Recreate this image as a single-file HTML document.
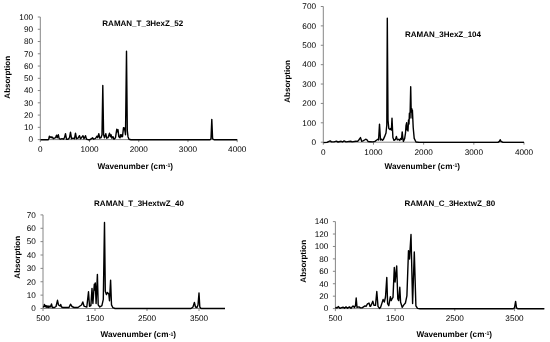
<!DOCTYPE html>
<html><head><meta charset="utf-8"><style>
html,body{margin:0;padding:0;background:#fff;width:550px;height:342px;overflow:hidden}
svg{display:block;will-change:transform;filter:blur(0.25px)}
text{font-family:"Liberation Sans",sans-serif;fill:#000;text-rendering:geometricPrecision}
.yl{font-size:8.2px;text-anchor:end}
.xl{font-size:8.2px;text-anchor:middle}
.tt{font-size:8px;font-weight:bold;text-anchor:middle}
.xt{font-size:8.2px}
.sup{font-size:5.2px}
.ax{stroke:#868686;stroke-width:1;fill:none}
.ln{stroke:#000;stroke-width:1.4;fill:none;stroke-linejoin:round}
</style></head><body>
<svg width="550" height="342" viewBox="0 0 550 342">
<path d="M40.3 17V139.6H237.2" class="ax"/>
<text x="33" y="142.4" class="yl">0</text>
<text x="33" y="130.14" class="yl">10</text>
<text x="33" y="117.88" class="yl">20</text>
<text x="33" y="105.62" class="yl">30</text>
<text x="33" y="93.36" class="yl">40</text>
<text x="33" y="81.1" class="yl">50</text>
<text x="33" y="68.84" class="yl">60</text>
<text x="33" y="56.58" class="yl">70</text>
<text x="33" y="44.32" class="yl">80</text>
<text x="33" y="32.06" class="yl">90</text>
<text x="33" y="19.8" class="yl">100</text>
<text x="40.3" y="152" class="xl">0</text>
<text x="89.52" y="152" class="xl">1000</text>
<text x="138.75" y="152" class="xl">2000</text>
<text x="187.97" y="152" class="xl">3000</text>
<text x="237.2" y="152" class="xl">4000</text>
<path d="M37.8 139.6H40.3M37.8 127.34H40.3M37.8 115.08H40.3M37.8 102.82H40.3M37.8 90.56H40.3M37.8 78.3H40.3M37.8 66.04H40.3M37.8 53.78H40.3M37.8 41.52H40.3M37.8 29.26H40.3M37.8 17H40.3M40.3 139.6V142.1M89.52 139.6V142.1M138.75 139.6V142.1M187.97 139.6V142.1M237.2 139.6V142.1" class="ax"/>
<polyline class="ln" points="40.5,139.7 48.3,139.7 48.9,138.2 49.4,136.2 49.8,137.7 50.5,137.2 51,136.7 51.7,137.7 52.5,137.2 53.3,138.7 54.5,138.2 55.5,137.7 56.5,135.2 57.3,137.7 58.3,134.7 59.2,138.7 60.5,139.2 62,138.7 63.5,139.2 64.5,137.7 65.5,133.7 66.5,139.2 68,139.2 69.5,137.7 70.5,132.2 71.5,138.7 73,138.2 74.5,138.7 75.5,133.2 76.5,138.7 78,138.2 79.5,135.7 80.5,138.7 81.5,137.7 83,135.7 84,138.7 85.5,135.7 86.5,139.2 88,139.7 90,139.7 91.5,138.7 92.5,137.7 93.5,139.2 95,138.7 96,137.7 97,136.2 97.8,137.7 98.8,133.7 99.8,138.2 101,137.7 102,134.7 102.8,85.4 103.6,134.7 104.5,137.7 105.8,133.7 106.7,138.2 108,137.7 109.5,133.2 110.3,136.7 111,134.7 112,138.2 113,136.7 114,139.2 115.5,137.7 116.8,129.2 117.5,131.7 118,129.7 118.8,136.7 120,137.7 120.5,134.7 121.2,136.7 121.8,134.7 122.5,136.7 123.5,127.7 124.5,128.2 125.5,134.7 126.5,51.3 127.3,130.7 128,136.7 129,139.2 131,139.7 210,139.7 211,138.7 211.8,119.4 212.6,138.7 214,139.7 237.2,139.7"/>
<text x="142.8" y="26" class="tt">RAMAN_T_3HexZ_52</text>
<text x="135.3" y="168.8" class="tt xt">Wavenumber (cm<tspan class="sup" dx="0.3" dy="-1.6">-1</tspan><tspan dy="1.6">)</tspan></text>
<text transform="translate(10 77.3) rotate(-90)" class="tt">Absorption</text>
<path d="M323.3 6.5V142.2H524" class="ax"/>
<text x="316" y="145" class="yl">0</text>
<text x="316" y="125.61" class="yl">100</text>
<text x="316" y="106.23" class="yl">200</text>
<text x="316" y="86.84" class="yl">300</text>
<text x="316" y="67.46" class="yl">400</text>
<text x="316" y="48.07" class="yl">500</text>
<text x="316" y="28.69" class="yl">600</text>
<text x="316" y="9.3" class="yl">700</text>
<text x="323.3" y="155" class="xl">0</text>
<text x="373.48" y="155" class="xl">1000</text>
<text x="423.65" y="155" class="xl">2000</text>
<text x="473.83" y="155" class="xl">3000</text>
<text x="524" y="155" class="xl">4000</text>
<path d="M320.8 142.2H323.3M320.8 122.81H323.3M320.8 103.43H323.3M320.8 84.04H323.3M320.8 64.66H323.3M320.8 45.27H323.3M320.8 25.89H323.3M320.8 6.5H323.3M323.3 142.2V144.7M373.48 142.2V144.7M423.65 142.2V144.7M473.83 142.2V144.7M524 142.2V144.7" class="ax"/>
<polyline class="ln" points="323.5,142.6 327,142.4 328.5,141.6 330.2,140.9 331.5,141.9 334,141.9 336.4,141.2 338,142 341.2,141.3 342.5,142 344.1,140.9 346,141.9 350.7,141.2 352,141.9 355.9,141.2 357.5,141.4 358.8,140 360.5,137.6 361.7,141.3 363,140.9 364.5,140 366,139.2 367,139.9 368.2,141.6 370,141.7 373,141.9 375,141.4 376.8,140 377.8,139.2 378.6,139.9 379.5,124.1 380.5,140 381.7,139.2 382.5,140.2 383.4,139.4 384.7,136.4 386,133 386.8,125 387.3,18.2 388,120 388.8,128.4 390,129.6 390.8,128.4 391.4,130 392,118.1 392.9,137.6 394,140.4 395.5,139.4 396.4,136.4 397.3,139.9 398.7,139.3 399.7,140.4 400.8,138.4 401.5,139.4 402.2,131.9 403,139.4 403.4,141.4 404.7,138.4 405.5,133 406,125.6 406.6,122.8 407.1,130 407.5,127.5 408,131 408.5,120 409,124 409.4,113.3 410,118 410.7,86.7 411.2,112 411.7,108.5 412.1,118 412.4,110 413.2,127.5 414.2,138.4 416,142 419,142.4 498,142.4 499.4,141.4 500.2,139.7 501,141.4 503,142.4 524,142.4"/>
<text x="443" y="37" class="tt">RAMAN_3HexZ_104</text>
<text x="422.3" y="169" class="tt xt">Wavenumber (cm<tspan class="sup" dx="0.3" dy="-1.6">-1</tspan><tspan dy="1.6">)</tspan></text>
<text transform="translate(289.6 81.4) rotate(-90)" class="tt">Absorption</text>
<path d="M43 214.9V308.5H225" class="ax"/>
<text x="35.8" y="311.3" class="yl">0</text>
<text x="35.8" y="297.93" class="yl">10</text>
<text x="35.8" y="284.56" class="yl">20</text>
<text x="35.8" y="271.19" class="yl">30</text>
<text x="35.8" y="257.81" class="yl">40</text>
<text x="35.8" y="244.44" class="yl">50</text>
<text x="35.8" y="231.07" class="yl">60</text>
<text x="35.8" y="217.7" class="yl">70</text>
<text x="43" y="321" class="xl">500</text>
<text x="95" y="321" class="xl">1500</text>
<text x="147" y="321" class="xl">2500</text>
<text x="199" y="321" class="xl">3500</text>
<path d="M40.5 308.5H43M40.5 295.13H43M40.5 281.76H43M40.5 268.39H43M40.5 255.01H43M40.5 241.64H43M40.5 228.27H43M40.5 214.9H43M43 308.5V311M95 308.5V311M147 308.5V311M199 308.5V311" class="ax"/>
<polyline class="ln" points="43.2,307.5 44,306 44.4,304.4 45,306.5 45.6,305.5 46.2,307.3 46.8,305.8 47.4,307.3 48,306 48.6,307.4 49.3,306.2 50,307.2 50.8,306 51.5,304 52.3,307.5 54.5,307.5 56,306.5 57.5,300.3 58.5,305 60,306 60.7,304.5 61.5,307 63,307.5 69,307.5 70.5,304.2 72,306.5 74,307.5 78,307.5 80,306 81.5,305 82.8,302 84,306 84.7,306.3 86.8,307 88.5,291.8 89.5,306.3 90.9,305.6 92,288.4 92.9,303.5 94.3,284.3 94.8,290 95.3,282.9 96.1,303.5 97.4,274.4 98.2,304.9 99.8,307 101.9,305.6 103.3,299.4 104.5,222.4 105.3,291.2 106.4,294.6 107.4,292.5 108.8,293.9 109.5,300.8 110.6,280.1 111.5,304.9 112.9,307.7 115,308.5 191,308.5 193,307 194.4,302.4 195.5,307 197,307.5 198,305 199,293 199.8,307 201,308.5 225,308.5"/>
<text x="139" y="206" class="tt">RAMAN_T_3HextwZ_40</text>
<text x="138.3" y="337.2" class="tt xt">Wavenumber (cm<tspan class="sup" dx="0.3" dy="-1.6">-1</tspan><tspan dy="1.6">)</tspan></text>
<text transform="translate(19.5 257.3) rotate(-90)" class="tt">Absorption</text>
<path d="M335.4 221.6V308.6H544.3" class="ax"/>
<text x="328.3" y="311.4" class="yl">0</text>
<text x="328.3" y="298.97" class="yl">20</text>
<text x="328.3" y="286.54" class="yl">40</text>
<text x="328.3" y="274.11" class="yl">60</text>
<text x="328.3" y="261.69" class="yl">80</text>
<text x="328.3" y="249.26" class="yl">100</text>
<text x="328.3" y="236.83" class="yl">120</text>
<text x="328.3" y="224.4" class="yl">140</text>
<text x="335.4" y="320.8" class="xl">500</text>
<text x="395.09" y="320.8" class="xl">1500</text>
<text x="454.77" y="320.8" class="xl">2500</text>
<text x="514.46" y="320.8" class="xl">3500</text>
<path d="M332.9 308.6H335.4M332.9 296.17H335.4M332.9 283.74H335.4M332.9 271.31H335.4M332.9 258.89H335.4M332.9 246.46H335.4M332.9 234.03H335.4M332.9 221.6H335.4M335.4 308.6V311.1M395.09 308.6V311.1M454.77 308.6V311.1M514.46 308.6V311.1" class="ax"/>
<polyline class="ln" points="335.6,308.4 336,307.4 337,307.9 338.5,306.6 340,308.4 341.5,307.6 343,307.2 344.5,308.2 346,306.9 347.5,308.2 349.5,306.9 351,308.2 353,305.9 354.5,307.4 355.5,305.4 356.2,298 357,307.4 359,306.9 360.5,307.9 362,307.9 363.5,306.9 365,305.9 366,306.4 367.5,303.9 369,303 370,306.4 370.5,306.4 371.5,304.4 372.8,301.2 374,305.4 375.5,305.4 376.8,291.5 378,306.4 379.5,308.4 380.6,307.3 381.8,303.6 383.1,299.5 384.3,302 385.5,297 386.8,277.4 387.6,303.6 388.8,305.7 390.4,296.6 391.2,300.6 392,299 393,297.4 394.3,267.5 395.1,282 396.7,265.9 397.8,299 398.7,300.6 399.8,287.2 400.6,302.2 402.2,307.3 403.8,304.9 405.4,303 406.9,295.9 408.5,250.6 409.5,259 411,234.5 412.6,303.6 414.3,252 415.9,305.9 417.5,308.4 420,308.8 513,308.8 514.5,307.9 515.6,301.4 516.5,307.9 518,308.8 544.3,308.8"/>
<text x="449.8" y="205.7" class="tt">RAMAN_C_3HextwZ_80</text>
<text x="454.3" y="336.7" class="tt xt">Wavenumber (cm<tspan class="sup" dx="0.3" dy="-1.6">-1</tspan><tspan dy="1.6">)</tspan></text>
<text transform="translate(305.9 261.3) rotate(-90)" class="tt">Absorption</text>
</svg>
</body></html>
